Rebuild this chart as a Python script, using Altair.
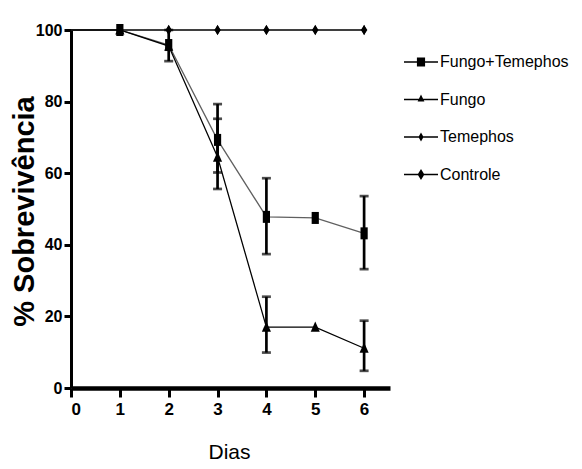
import altair as alt
import pandas as pd

# ---- data ----
series = ["Fungo+Temephos", "Fungo", "Temephos", "Controle"]
days = [0, 1, 2, 3, 4, 5, 6]
fungo_temephos = [100, 100, 95.8, 69.3, 47.8, 47.5, 43.2]
fungo = [100, 100, 95.5, 64.5, 17.0, 17.0, 11.1]
temephos = [100, 100, 100, 100, 100, 100, 100]
controle = [100, 100, 100, 100, 100, 100, 100]

err_days = [2, 3, 4, 6, 3, 4, 6]
err_series = ["Fungo+Temephos", "Fungo+Temephos", "Fungo+Temephos", "Fungo+Temephos",
              "Fungo", "Fungo", "Fungo"]
err_lo = [91.3, 55.6, 37.4, 33.2, 60.2, 9.9, 4.8]
err_hi = [100.0, 79.3, 58.6, 53.6, 75.2, 25.5, 18.8]

ARIAL = "Liberation Sans, Arial, sans-serif"

rows = []
for name, vals in zip(series, [fungo_temephos, fungo, temephos, controle]):
    for d, v in zip(days, vals):
        rows.append({"series": name, "day": d, "value": v})
df = pd.DataFrame(rows)
# draw order: Temephos under Controle
order_map = {"Fungo+Temephos": 2, "Fungo": 3, "Temephos": 0, "Controle": 1}
df["ord"] = df["series"].map(order_map)
df = df.sort_values(["ord", "day"]).reset_index(drop=True)

err = pd.DataFrame({"day": err_days, "series": err_series, "lo": err_lo, "hi": err_hi})

xs = alt.Scale(domain=[0, 6.53], nice=False, zero=False)
ys = alt.Scale(domain=[0, 100], nice=False)

X = alt.X("day:Q", scale=xs, axis=alt.Axis(
    values=[0, 1, 2, 3, 4, 5, 6], format="d", title="Dias",
    titleFont=ARIAL, titleFontSize=21, titleFontWeight="normal",
    titleX=158, titleY=70, titleBaseline="alphabetic", titleAlign="center",
    labelFont=ARIAL, labelFontSize=17, labelFontWeight="bold", labelPadding=4,
    tickSize=9, tickWidth=3, domainWidth=4.5, grid=False))
Y = alt.Y("value:Q", scale=ys, axis=alt.Axis(
    values=[0, 20, 40, 60, 80, 100], title="% Sobrevivência",
    titleFont=ARIAL, titleFontSize=29, titleFontWeight="bold",
    titleAngle=270, titleX=-38, titleY=181, titleAlign="center",
    titleBaseline="alphabetic",
    labelFont=ARIAL, labelFontSize=16, labelFontWeight="bold", labelPadding=2,
    tickSize=7, tickWidth=3, domainWidth=3, grid=False))

lines = alt.Chart(df).mark_line().encode(
    x=X, y=Y, detail="series:N",
    color=alt.Color("series:N", legend=None,
                    scale=alt.Scale(domain=series, range=["#606060", "#000000", "#000000", "#000000"])),
    strokeWidth=alt.StrokeWidth("series:N", legend=None,
                                scale=alt.Scale(domain=series, range=[1.3, 1.2, 1.5, 1.8])),
    order="day:Q",
)

rules = alt.Chart(err).mark_rule(color="black", strokeWidth=2.7).encode(
    x="day:Q", y="lo:Q", y2="hi:Q")
cap_lo = alt.Chart(err).mark_tick(color="black", orient="horizontal", size=9, thickness=2.7).encode(
    x="day:Q", y="lo:Q")
cap_hi = alt.Chart(err).mark_tick(color="black", orient="horizontal", size=9, thickness=2.7).encode(
    x="day:Q", y="hi:Q")

plot_shapes = ["M-0.6,-1H0.6V1H-0.6Z",
               "M0,-1L0.8,0.8L-0.8,0.8Z",
               "M0,-1L0.45,0L0,1L-0.45,0Z",
               "M0,-1L0.65,0L0,1L-0.65,0Z"]
points = alt.Chart(df).transform_filter(alt.datum.day >= 1).mark_point(
    filled=True, opacity=1, color="black").encode(
    x="day:Q", y="value:Q",
    shape=alt.Shape("series:N", legend=None, scale=alt.Scale(domain=series, range=plot_shapes)),
    size=alt.Size("series:N", legend=None, scale=alt.Scale(domain=series, range=[144, 100, 100, 160])),
)

BAR = "M-1,-0.05H1V0.05H-1Z"
legend_shapes = [
    BAR + "M-0.24,-0.26H0.24V0.26H-0.24Z",
    BAR + "M-0.2,0.12L0,-0.3L0.2,0.12Z",
    BAR + "M0,-0.27L0.15,0L0,0.27L-0.15,0Z",
    BAR + "M0,-0.33L0.2,0L0,0.33L-0.2,0Z",
]
legend_layer = alt.Chart(df).transform_filter(alt.datum.day == 1).mark_point(
    filled=True, color="black", opacity=0).encode(
    x="day:Q", y="value:Q",
    shape=alt.Shape("series:N", scale=alt.Scale(domain=series, range=legend_shapes),
                    legend=alt.Legend(title=None, orient="none", legendX=333, legendY=15,
                                      symbolSize=1156, symbolStrokeWidth=0,
                                      symbolFillColor="black",
                                      symbolOpacity=1, labelFont=ARIAL, labelFontSize=16,
                                      labelColor="black", labelOffset=2, rowPadding=12.5,
                                      padding=0, labelLimit=300)),
)

chart = alt.layer(lines, rules, cap_lo, cap_hi, points, legend_layer).resolve_scale(
    shape="independent"
).properties(
    width=319, height=358,
    autosize=alt.AutoSizeParams(type="none"),
    padding={"left": 63, "top": 22, "right": 184, "bottom": 73},
).configure_view(stroke=None).configure_axis(
    domainColor="black", tickColor="black", labelColor="black", titleColor="black"
)

chart.save("out.html", embed_options={"renderer": "svg", "actions": False})
